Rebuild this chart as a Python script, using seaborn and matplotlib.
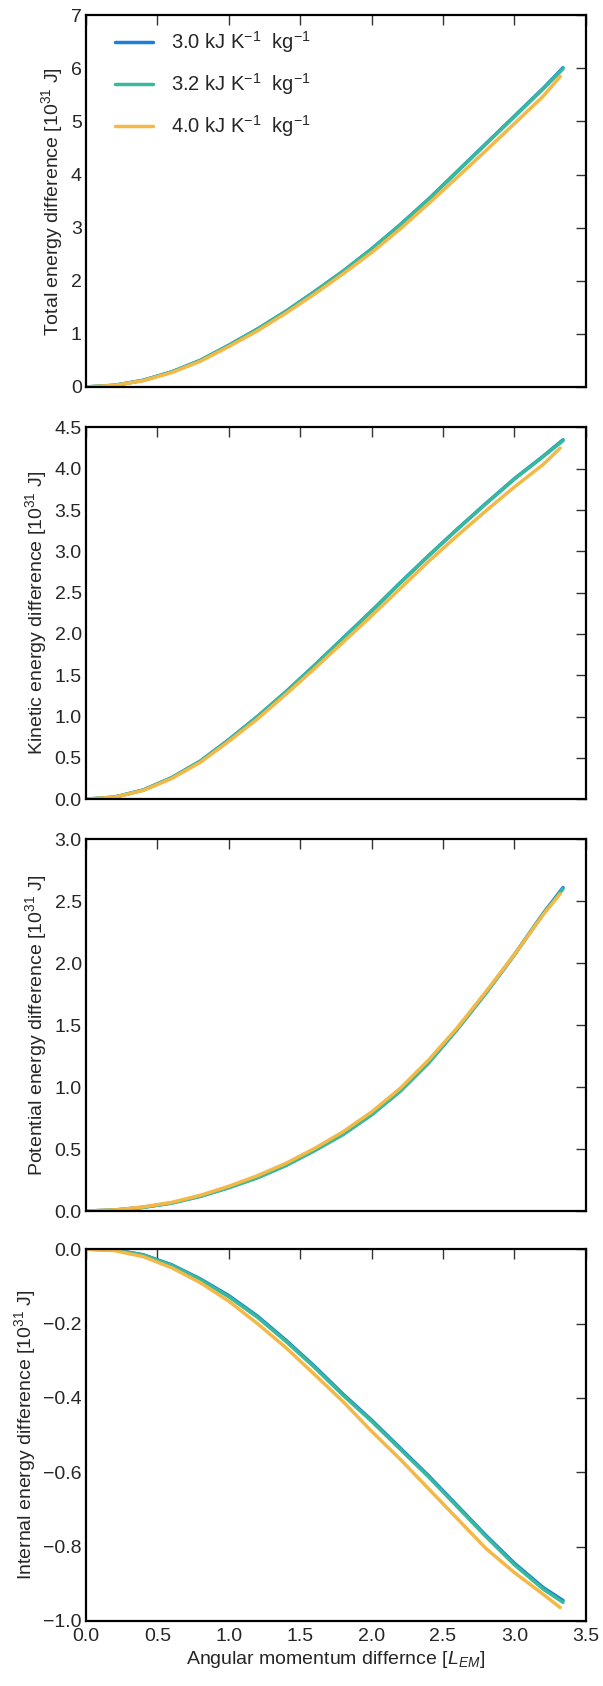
#--------------------------------------------
# Energy differences vs angular momentum
# difference for three heat capacities.
#--------------------------------------------

import numpy as np
import pandas as pd
import matplotlib
matplotlib.use("Agg")
import matplotlib.pyplot as plt
import seaborn as sns

#--------------------DATA-----------------------

x_grid = [0.0, 0.2, 0.4, 0.6, 0.8, 1.0, 1.2, 1.4, 1.6, 1.8, 2.0, 2.2, 2.4, 2.6, 2.8, 3.0, 3.2, 3.34]
x_grid_40 = [0.0, 0.2, 0.4, 0.6, 0.8, 1.0, 1.2, 1.4, 1.6, 1.8, 2.0, 2.2, 2.4, 2.6, 2.8, 3.0, 3.2, 3.32]

labels = [r"3.0 kJ K$^{-1}$  kg$^{-1}$", r"3.2 kJ K$^{-1}$  kg$^{-1}$", r"4.0 kJ K$^{-1}$  kg$^{-1}$"]
colours = ["#1a80d9", "#38b99c", "#f3b845"]

# total energy difference [1e31 J]
total_30 = [0, 0.031, 0.125, 0.283, 0.50, 0.785, 1.09, 1.425, 1.795, 2.18, 2.60, 3.055, 3.54, 4.06, 4.58, 5.10, 5.62, 6.01]
total_32 = [0, 0.031, 0.124, 0.282, 0.50, 0.783, 1.088, 1.423, 1.792, 2.177, 2.597, 3.05, 3.535, 4.055, 4.575, 5.09, 5.61, 5.99]
total_40 = [0, 0.029, 0.118, 0.270, 0.482, 0.76, 1.055, 1.39, 1.748, 2.13, 2.53, 2.975, 3.455, 3.95, 4.45, 4.96, 5.47, 5.846]

# kinetic energy difference
kin_30 = [0, 0.025, 0.11, 0.26, 0.46, 0.72, 1.0, 1.3, 1.62, 1.95, 2.28, 2.62, 2.95, 3.27, 3.58, 3.88, 4.15, 4.35]
kin_32 = [0, 0.025, 0.11, 0.259, 0.459, 0.718, 0.998, 1.298, 1.618, 1.947, 2.277, 2.617, 2.946, 3.266, 3.575, 3.875, 4.145, 4.34]
kin_40 = [0, 0.024, 0.105, 0.25, 0.445, 0.70, 0.97, 1.27, 1.58, 1.90, 2.22, 2.55, 2.88, 3.19, 3.49, 3.78, 4.05, 4.25]

# potential energy difference
pot_30 = [0, 0.008, 0.03, 0.065, 0.12, 0.19, 0.27, 0.37, 0.49, 0.62, 0.78, 0.97, 1.20, 1.47, 1.76, 2.07, 2.40, 2.61]
pot_32 = [0, 0.008, 0.03, 0.064, 0.118, 0.188, 0.268, 0.367, 0.487, 0.617, 0.776, 0.966, 1.196, 1.466, 1.757, 2.067, 2.397, 2.60]
pot_40 = [0, 0.009, 0.033, 0.07, 0.127, 0.20, 0.285, 0.385, 0.505, 0.64, 0.80, 0.99, 1.22, 1.48, 1.77, 2.07, 2.39, 2.56]

# internal energy difference
int_30 = [0, -0.002, -0.015, -0.042, -0.08, -0.125, -0.18, -0.245, -0.315, -0.39, -0.46, -0.535, -0.61, -0.69, -0.77, -0.845, -0.91, -0.945]
int_32 = [0, -0.002, -0.016, -0.043, -0.082, -0.128, -0.183, -0.248, -0.318, -0.393, -0.463, -0.538, -0.613, -0.693, -0.773, -0.849, -0.914, -0.95]
int_40 = [0, -0.004, -0.02, -0.05, -0.09, -0.14, -0.20, -0.265, -0.337, -0.41, -0.49, -0.565, -0.645, -0.725, -0.805, -0.87, -0.928, -0.964]

panels = [
    ("Total energy difference [10$^{31}$ J]", [total_30, total_32, total_40], (0, 7), [0, 1, 2, 3, 4, 5, 6, 7], "{:.0f}"),
    ("Kinetic energy difference [10$^{31}$ J]", [kin_30, kin_32, kin_40], (0, 4.5), [0.0, 0.5, 1.0, 1.5, 2.0, 2.5, 3.0, 3.5, 4.0, 4.5], "{:.1f}"),
    ("Potential energy difference [10$^{31}$ J]", [pot_30, pot_32, pot_40], (0, 3.0), [0.0, 0.5, 1.0, 1.5, 2.0, 2.5, 3.0], "{:.1f}"),
    ("Internal energy difference [10$^{31}$ J]", [int_30, int_32, int_40], (-1.0, 0), [-1.0, -0.8, -0.6, -0.4, -0.2, 0.0], "{:.1f}"),
]
x_ticks = [0.0, 0.5, 1.0, 1.5, 2.0, 2.5, 3.0, 3.5]

#--------------------PLOT-----------------------

sns.set_style("white")
plt.rcParams['font.family'] = ['Liberation Sans', 'DejaVu Sans']
plt.rcParams['mathtext.fontset'] = 'custom'
plt.rcParams['mathtext.rm'] = 'Liberation Sans'
plt.rcParams['mathtext.it'] = 'Liberation Sans:italic'

fig = plt.figure(figsize=(6.03, 16.86), dpi=100)
bottoms = [0.7705, 0.526, 0.2817, 0.0386]

for i, (ylab, series, ylim, yticks, fmt) in enumerate(panels):
    ax = fig.add_axes([0.1426, bottoms[i], 0.829, 0.2205])
    for j, vals in enumerate(series):
        xs = x_grid_40 if j == 2 else x_grid
        df = pd.DataFrame({'x': xs, 'y': vals})
        sns.lineplot(data=df, x='x', y='y', ax=ax, color=colours[j], lw=2.5,
                     label=labels[j] if i == 0 else None, legend=False)
    ax.set_xlim(0, 3.5)
    ax.set_ylim(*ylim)
    ax.set_xticks(x_ticks)
    ax.set_yticks(yticks)
    ax.set_yticklabels([fmt.format(v).replace('-', '\u2212') for v in yticks])
    ax.set_ylabel(ylab, fontsize=14, labelpad=4)
    ax.tick_params(direction='in', top=True, right=True, length=7, width=1,
                   labelsize=14, pad=3, color='#333333')
    for s in ax.spines.values():
        s.set_linewidth(1.6)
        s.set_color('black')
    if i < 3:
        ax.set_xlabel('')
        ax.set_xticklabels([])
    else:
        ax.set_xticklabels(["{:.1f}".format(v) for v in x_ticks])
        ax.tick_params(axis='x', pad=5)
        ax.set_xlabel(r"Angular momentum differnce [$L_{EM}$]", fontsize=14, labelpad=3)
    if i == 0:
        ax.legend(loc='upper left', bbox_to_anchor=(0.025, 1.005), frameon=False,
                  fontsize=14.5, handlelength=1.9, borderaxespad=0.4,
                  labelspacing=0.8, handletextpad=0.9)

plt.savefig('out.png', dpi=100)
